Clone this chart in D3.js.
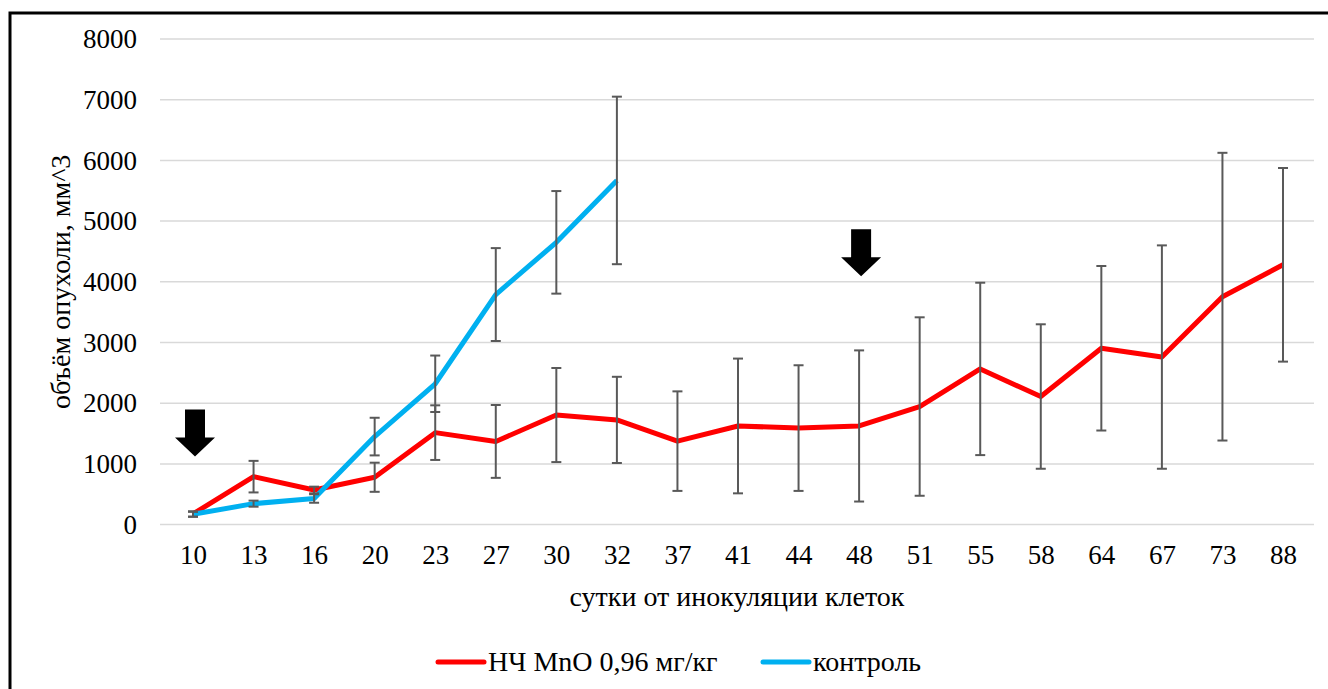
<!DOCTYPE html>
<html>
<head>
<meta charset="utf-8">
<script src="https://cdn.jsdelivr.net/npm/d3@7"></script>
</head>
<body style="margin:0">
<svg id="chart" width="1328" height="689" font-family="Liberation Serif"></svg>
<script>
// days after cell inoculation
let days = ["10", "13", "16", "20", "23", "27", "30", "32", "37", "41", "44", "48", "51", "55", "58", "64", "67", "73", "88"];

// НЧ MnO 0,96 мг/кг
let mnoValues = [175, 790, 570, 780, 1515, 1370, 1805, 1725, 1375, 1625, 1590, 1625, 1945, 2565, 2110, 2905, 2760, 3755, 4280];
let mnoErrors = [45, 260, 55, 240, 450, 600, 775, 710, 820, 1110, 1035, 1245, 1470, 1420, 1190, 1355, 1840, 2370, 1595];

// контроль (only until day 32)
let controlValues = [170, 345, 430, 1450, 2320, 3790, 4650, 5670];
let controlErrors = [40, 50, 70, 310, 465, 765, 845, 1380];

let yTicks = [0, 1000, 2000, 3000, 4000, 5000, 6000, 7000, 8000];

// injection arrows: day and value at the arrow tip
let arrowDays = ["10", "48"];
let arrowTips = [1120, 4090];

let seriesNames = ["НЧ MnO 0,96 мг/кг", "контроль"];
let seriesColors = ["#ff0000", "#00b0f0"];

let svg = d3.select("#chart");

// frame of the pasted picture, only left and top edges are visible
svg.append("rect")
  .attr("x", 10)
  .attr("y", 13)
  .attr("width", 1340)
  .attr("height", 700)
  .attr("fill", "none")
  .attr("stroke", "#000")
  .attr("stroke-width", 3);

let plotLeft = 160;
let plotRight = 1314;

let xScale = d3.scalePoint()
  .domain(days)
  .range([193, 1283]);

let yScale = d3.scaleLinear()
  .domain([0, 8000])
  .range([524.6, 39]);

// grid
svg.append("g")
  .selectAll("line")
  .data(yTicks)
  .enter().append("line")
  .attr("x1", plotLeft)
  .attr("x2", plotRight)
  .attr("y1", d => yScale(d))
  .attr("y2", d => yScale(d))
  .attr("stroke", "#d9d9d9")
  .attr("stroke-width", 1.5);

// y axis labels
let yAxis = d3.axisLeft(yScale)
  .tickValues(yTicks)
  .tickFormat(d3.format("d"))
  .tickSize(0)
  .tickPadding(0);
let yAxisG = svg.append("g")
  .attr("transform", "translate(137,0)")
  .call(yAxis)
  .attr("font-family", "Liberation Serif")
  .attr("font-size", 27);
yAxisG.select(".domain").remove();
yAxisG.selectAll("text")
  .attr("font-family", "Liberation Serif")
  .attr("fill", "#000");

// x axis labels
let xAxis = d3.axisBottom(xScale)
  .tickSize(0)
  .tickPadding(0);
let xAxisG = svg.append("g")
  .attr("transform", "translate(0,545)")
  .call(xAxis)
  .attr("font-family", "Liberation Serif")
  .attr("font-size", 27);
xAxisG.select(".domain").remove();
xAxisG.selectAll("text")
  .attr("font-family", "Liberation Serif")
  .attr("fill", "#000");

// axis titles
svg.append("text")
  .attr("x", (plotLeft + plotRight) / 2)
  .attr("y", 606)
  .attr("text-anchor", "middle")
  .attr("font-family", "Liberation Serif")
  .attr("font-size", 28)
  .text("сутки от инокуляции клеток");

svg.append("text")
  .attr("transform", "translate(70," + ((yScale(0) + yScale(8000)) / 2) + ") rotate(-90)")
  .attr("text-anchor", "middle")
  .attr("font-family", "Liberation Serif")
  .attr("font-size", 28)
  .text("объём опухоли, мм^3");

// lines
let line = d3.line()
  .x(d => xScale(d.day))
  .y(d => yScale(d.value));

let mnoData = days.map((d, i) => ({ day: d, value: mnoValues[i], err: mnoErrors[i] }));
let controlData = controlValues.map((v, i) => ({ day: days[i], value: v, err: controlErrors[i] }));

svg.append("path")
  .datum(mnoData)
  .attr("d", line)
  .attr("fill", "none")
  .attr("stroke", seriesColors[0])
  .attr("stroke-width", 5)
  .attr("stroke-linejoin", "round");

svg.append("path")
  .datum(controlData)
  .attr("d", line)
  .attr("fill", "none")
  .attr("stroke", seriesColors[1])
  .attr("stroke-width", 5)
  .attr("stroke-linejoin", "round");

// error bars
function drawErrors(data) {
  let g = svg.append("g")
    .attr("stroke", "#595959")
    .attr("stroke-width", 2)
    .selectAll("g")
    .data(data)
    .enter().append("g");

  g.append("line")
    .attr("x1", d => xScale(d.day))
    .attr("x2", d => xScale(d.day))
    .attr("y1", d => yScale(d.value - d.err))
    .attr("y2", d => yScale(d.value + d.err));

  g.append("line")
    .attr("x1", d => xScale(d.day) - 5)
    .attr("x2", d => xScale(d.day) + 5)
    .attr("y1", d => yScale(d.value + d.err))
    .attr("y2", d => yScale(d.value + d.err));

  g.append("line")
    .attr("x1", d => xScale(d.day) - 5)
    .attr("x2", d => xScale(d.day) + 5)
    .attr("y1", d => yScale(d.value - d.err))
    .attr("y2", d => yScale(d.value - d.err));
}
drawErrors(mnoData);
drawErrors(controlData);

// arrows
svg.append("g")
  .selectAll("path")
  .data(arrowDays)
  .enter().append("path")
  .attr("d", (d, i) => {
    let x = xScale(d) + 2;
    let tip = yScale(arrowTips[i]);
    let top = tip - 47;
    let neck = tip - 19;
    return "M" + (x - 10) + "," + top +
      "L" + (x + 10) + "," + top +
      "L" + (x + 10) + "," + neck +
      "L" + (x + 20) + "," + neck +
      "L" + x + "," + tip +
      "L" + (x - 20) + "," + neck +
      "L" + (x - 10) + "," + neck + "Z";
  })
  .attr("fill", "#000");

// legend
let legend = svg.append("g")
  .attr("transform", "translate(438,662)");

let legendX = [0, 325];
let legendItem = legend.selectAll("g")
  .data(seriesNames)
  .enter().append("g")
  .attr("transform", (d, i) => "translate(" + legendX[i] + ",0)");

legendItem.append("line")
  .attr("x1", 0)
  .attr("x2", 46)
  .attr("y1", 0)
  .attr("y2", 0)
  .attr("stroke", (d, i) => seriesColors[i])
  .attr("stroke-width", 5)
  .attr("stroke-linecap", "round");

legendItem.append("text")
  .attr("x", 50)
  .attr("y", 9)
  .attr("font-family", "Liberation Serif")
  .attr("font-size", 28)
  .text(d => d);
</script>
</body>
</html>
